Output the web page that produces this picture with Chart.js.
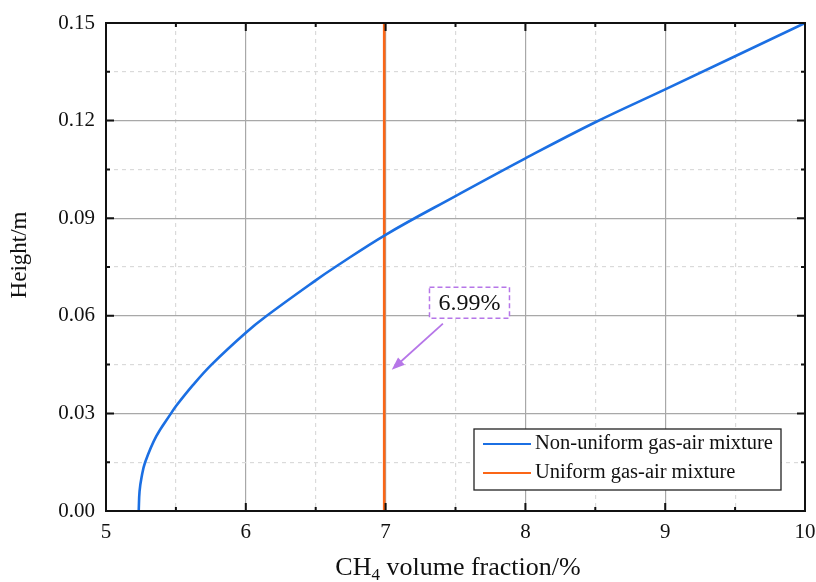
<!DOCTYPE html>
<html>
<head>
<meta charset="utf-8">
<script src="https://cdn.jsdelivr.net/npm/chart.js@4/dist/chart.umd.min.js"></script>
<style>
  body { margin: 0; background: #fff; }
  #wrap { width: 816px; height: 582px; }
</style>
</head>
<body>
<div id="wrap"><canvas id="chart" width="816" height="582"></canvas></div>
<script>
// CH4 volume fraction (%) and height (m)
const nonUniformX = [5.234, 5.24, 5.255, 5.28, 5.36, 5.465, 5.5, 5.62, 5.755, 6.0, 6.15, 6.5, 6.64, 7.0, 7.5, 8.0, 8.5, 9.0, 10];
const nonUniformY = [0, 0.006, 0.0105, 0.015, 0.023, 0.03, 0.0322, 0.0386, 0.045, 0.0548, 0.06, 0.0709, 0.075, 0.0849, 0.0968, 0.1084, 0.1195, 0.1296, 0.15];
const uniformX = [6.99, 6.99];
const uniformY = [0, 0.15];

const seriesLabels = ['Non-uniform gas-air mixture', 'Uniform gas-air mixture'];
const seriesColors = ['#1b6fe3', '#fb6616'];

// annotation (data units)
const noteText = '6.99%';
const noteAt = { x: 7.6, y: 0.064 };
const arrowFrom = { x: 7.41, y: 0.0576 };
const arrowTo = { x: 7.044, y: 0.0434 };

const xMajor = 1, xStep = 0.5;
const yMajor = 0.03, yStep = 0.015;

const FONT = '"Liberation Serif", "Times New Roman", serif';
const toPts = (xs, ys) => xs.map((x, i) => ({ x: x, y: ys[i] }));

const isMajor = (v, major) => Math.abs(v / major - Math.round(v / major)) < 1e-6;

function gridColor(major) {
    return ctx => ctx.tick && isMajor(ctx.tick.value, major) ? '#a8a8a8' : '#dadada';
}
function gridDash(major) {
    return ctx => (ctx.tick && !isMajor(ctx.tick.value, major)) ? [4, 4] : [];
}

const framePlugin = {
    id: 'frame',
    afterDatasetsDraw(chart) {
        const { ctx, scales } = chart;
        const sx = scales.x, sy = scales.y;
        // annotation arrow
        const fx = sx.getPixelForValue(arrowFrom.x), fy = sy.getPixelForValue(arrowFrom.y);
        const tx = sx.getPixelForValue(arrowTo.x), ty = sy.getPixelForValue(arrowTo.y);
        const ang = Math.atan2(ty - fy, tx - fx);
        ctx.save();
        ctx.strokeStyle = '#b676e8';
        ctx.fillStyle = '#b676e8';
        ctx.lineWidth = 1.8;
        ctx.beginPath();
        ctx.moveTo(fx, fy);
        ctx.lineTo(tx - 9 * Math.cos(ang), ty - 9 * Math.sin(ang));
        ctx.stroke();
        ctx.beginPath();
        ctx.moveTo(tx, ty);
        ctx.lineTo(tx - 13 * Math.cos(ang) + 5 * Math.sin(ang), ty - 13 * Math.sin(ang) - 5 * Math.cos(ang));
        ctx.lineTo(tx - 13 * Math.cos(ang) - 5 * Math.sin(ang), ty - 13 * Math.sin(ang) + 5 * Math.cos(ang));
        ctx.closePath();
        ctx.fill();
        // annotation box
        const nx = sx.getPixelForValue(noteAt.x), ny = sy.getPixelForValue(noteAt.y);
        ctx.font = '24px ' + FONT;
        const tw = ctx.measureText(noteText).width;
        const bw = tw + 18, bh = 31;
        ctx.fillStyle = '#fff';
        ctx.fillRect(nx - bw / 2, ny - bh / 2, bw, bh);
        ctx.setLineDash([5, 3]);
        ctx.lineWidth = 1.5;
        ctx.strokeRect(nx - bw / 2, ny - bh / 2, bw, bh);
        ctx.setLineDash([]);
        ctx.fillStyle = '#111';
        ctx.textAlign = 'center';
        ctx.textBaseline = 'middle';
        ctx.fillText(noteText, nx, ny + 1);
        ctx.restore();
    },
    afterDraw(chart) {
        const { ctx, chartArea: a, scales } = chart;
        ctx.save();
        ctx.strokeStyle = '#111';
        ctx.lineWidth = 2;
        // inward ticks on all four sides
        scales.x.ticks.forEach(t => {
            const px = scales.x.getPixelForValue(t.value);
            const len = isMajor(t.value, xMajor) ? 8 : 4;
            ctx.beginPath();
            ctx.moveTo(px, a.bottom); ctx.lineTo(px, a.bottom - len);
            ctx.moveTo(px, a.top); ctx.lineTo(px, a.top + len);
            ctx.stroke();
        });
        scales.y.ticks.forEach(t => {
            const py = scales.y.getPixelForValue(t.value);
            const len = isMajor(t.value, yMajor) ? 8 : 4;
            ctx.beginPath();
            ctx.moveTo(a.left, py); ctx.lineTo(a.left + len, py);
            ctx.moveTo(a.right, py); ctx.lineTo(a.right - len, py);
            ctx.stroke();
        });
        ctx.strokeRect(a.left, a.top, a.right - a.left, a.bottom - a.top);

        // legend
        const lw = 307, lh = 61;
        const lx = a.right - 24 - lw, ly = a.bottom - 21 - lh;
        ctx.fillStyle = '#fff';
        ctx.fillRect(lx, ly, lw, lh);
        ctx.lineWidth = 1.3;
        ctx.strokeStyle = '#222';
        ctx.strokeRect(lx, ly, lw, lh);
        ctx.font = '20.5px ' + FONT;
        ctx.textBaseline = 'middle';
        ctx.textAlign = 'left';
        chart.data.datasets.forEach((ds, i) => {
            const cy = ly + 15 + i * 29;
            ctx.strokeStyle = ds.borderColor;
            ctx.lineWidth = 2;
            ctx.beginPath();
            ctx.moveTo(lx + 9, cy); ctx.lineTo(lx + 57, cy);
            ctx.stroke();
            ctx.fillStyle = '#111';
            ctx.fillText(ds.label, lx + 61, cy);
        });

        // axis titles
        ctx.fillStyle = '#111';
        ctx.font = '23px ' + FONT;
        ctx.save();
        ctx.translate(20, 255);
        ctx.rotate(-Math.PI / 2);
        ctx.textAlign = 'center';
        ctx.textBaseline = 'middle';
        ctx.fillText('Height/m', 0, 0);
        ctx.restore();

        const p1 = 'CH', p2 = '4', p3 = ' volume fraction/%';
        ctx.font = '26px ' + FONT;
        const w1 = ctx.measureText(p1).width, w3 = ctx.measureText(p3).width;
        ctx.font = '17px ' + FONT;
        const w2 = ctx.measureText(p2).width;
        const x0 = 458 - (w1 + w2 + w3) / 2;
        const base = 575;
        ctx.textAlign = 'left';
        ctx.textBaseline = 'alphabetic';
        ctx.font = '26px ' + FONT;
        ctx.fillText(p1, x0, base);
        ctx.font = '17px ' + FONT;
        ctx.fillText(p2, x0 + w1, base + 5);
        ctx.font = '26px ' + FONT;
        ctx.fillText(p3, x0 + w1 + w2, base);
        ctx.restore();
    }
};

new Chart(document.getElementById('chart'), {
    type: 'line',
    data: {
        datasets: [
            {
                label: seriesLabels[0],
                data: toPts(nonUniformX, nonUniformY),
                borderColor: seriesColors[0],
                borderWidth: 2.6,
                pointRadius: 0,
                tension: 0.4,
                fill: false
            },
            {
                label: seriesLabels[1],
                data: toPts(uniformX, uniformY),
                borderColor: seriesColors[1],
                borderWidth: 2.6,
                pointRadius: 0,
                fill: false
            }
        ]
    },
    options: {
        responsive: false,
        animation: false,
        devicePixelRatio: 1,
        layout: { padding: { top: 23, right: 11, left: 0, bottom: 0 } },
        plugins: { legend: { display: false }, tooltip: { enabled: false } },
        scales: {
            x: {
                type: 'linear',
                min: 5, max: 10,
                afterFit: s => { s.height = 71; s.paddingLeft = 0; s.paddingRight = 0; },
                ticks: {
                    stepSize: xStep, autoSkip: false, maxRotation: 0, padding: 9,
                    color: '#111', font: { family: FONT, size: 21 },
                    callback: v => isMajor(v, xMajor) ? String(Math.round(v)) : ''
                },
                grid: { drawTicks: false, color: gridColor(xMajor), lineWidth: 1.2 },
                border: { display: false, dash: gridDash(xMajor) }
            },
            y: {
                type: 'linear',
                min: 0, max: 0.15,
                afterFit: s => { s.width = 106; s.paddingTop = 0; s.paddingBottom = 0; },
                ticks: {
                    stepSize: yStep, autoSkip: false, padding: 11,
                    color: '#111', font: { family: FONT, size: 21 },
                    callback: v => isMajor(v, yMajor) ? v.toFixed(2) : ''
                },
                grid: { drawTicks: false, color: gridColor(yMajor), lineWidth: 1.2 },
                border: { display: false, dash: gridDash(yMajor) }
            }
        }
    },
    plugins: [framePlugin]
});
</script>
</body>
</html>
